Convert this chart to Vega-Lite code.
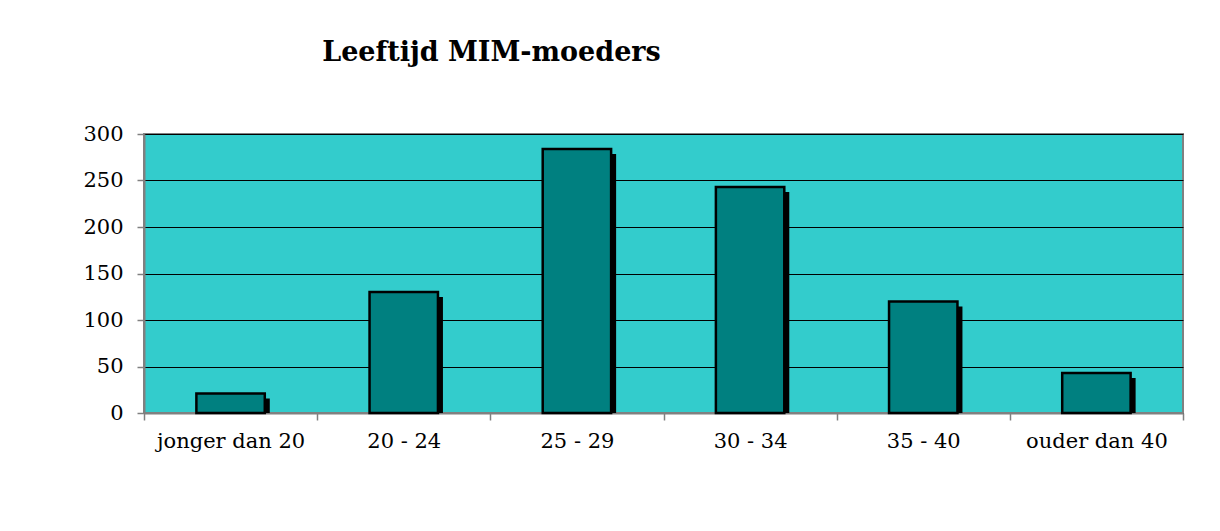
{
  "$schema": "https://vega.github.io/schema/vega-lite/v6.json",
  "autosize": {"type": "none"},
  "width": 1039,
  "height": 279,
  "padding": {"left": 144, "top": 134, "right": 37, "bottom": 118},
  "background": "white",
  "title": {
    "text": "Leeftijd MIM-moeders",
    "font": "DejaVu Serif",
    "fontSize": 27,
    "fontWeight": "bold",
    "color": "black",
    "anchor": "middle",
    "frame": "group",
    "dx": -172,
    "baseline": "alphabetic",
    "offset": 35
  },
  "data": {
    "values": [
      {"leeftijd": "jonger dan 20", "aantal": 21},
      {"leeftijd": "20 - 24", "aantal": 130},
      {"leeftijd": "25 - 29", "aantal": 284},
      {"leeftijd": "30 - 34", "aantal": 243},
      {"leeftijd": "35 - 40", "aantal": 120},
      {"leeftijd": "ouder dan 40", "aantal": 43}
    ]
  },
  "encoding": {
    "x": {
      "field": "leeftijd",
      "type": "nominal",
      "sort": null,
      "title": null,
      "scale": {"paddingInner": 0, "paddingOuter": 0},
      "axis": {
        "labelAngle": 0,
        "labelFont": "DejaVu Serif",
        "labelFontSize": 21,
        "labelColor": "black",
        "labelPadding": 10,
        "tickBand": "extent",
        "tickColor": "#808080",
        "tickSize": 7,
        "tickWidth": 1.5,
        "domainColor": "#808080",
        "domainWidth": 2,
        "grid": false
      }
    },
    "y": {
      "field": "aantal",
      "type": "quantitative",
      "title": null,
      "scale": {"domain": [0, 300], "nice": false},
      "axis": {
        "values": [0, 50, 100, 150, 200, 250, 300],
        "labelFont": "DejaVu Serif",
        "labelFontSize": 21,
        "labelColor": "black",
        "labelPadding": 14,
        "tickColor": "#808080",
        "tickSize": 7,
        "tickWidth": 1.5,
        "domainColor": "#808080",
        "domainWidth": 2,
        "grid": true,
        "gridColor": "black",
        "gridWidth": 1,
        "gridOpacity": 1
      }
    }
  },
  "layer": [
    {
      "mark": {
        "type": "bar",
        "color": "black",
        "width": {"band": 0.395},
        "xOffset": 5,
        "yOffset": 5,
        "y2Offset": 0
      },
      "encoding": {
        "y2": {"datum": 0}
      }
    },
    {
      "mark": {
        "type": "bar",
        "color": "#008080",
        "stroke": "black",
        "strokeWidth": 2.5,
        "width": {"band": 0.395}
      }
    }
  ],
  "config": {
    "view": {"fill": "#33CCCC", "stroke": "#808080", "strokeWidth": 2}
  }
}
